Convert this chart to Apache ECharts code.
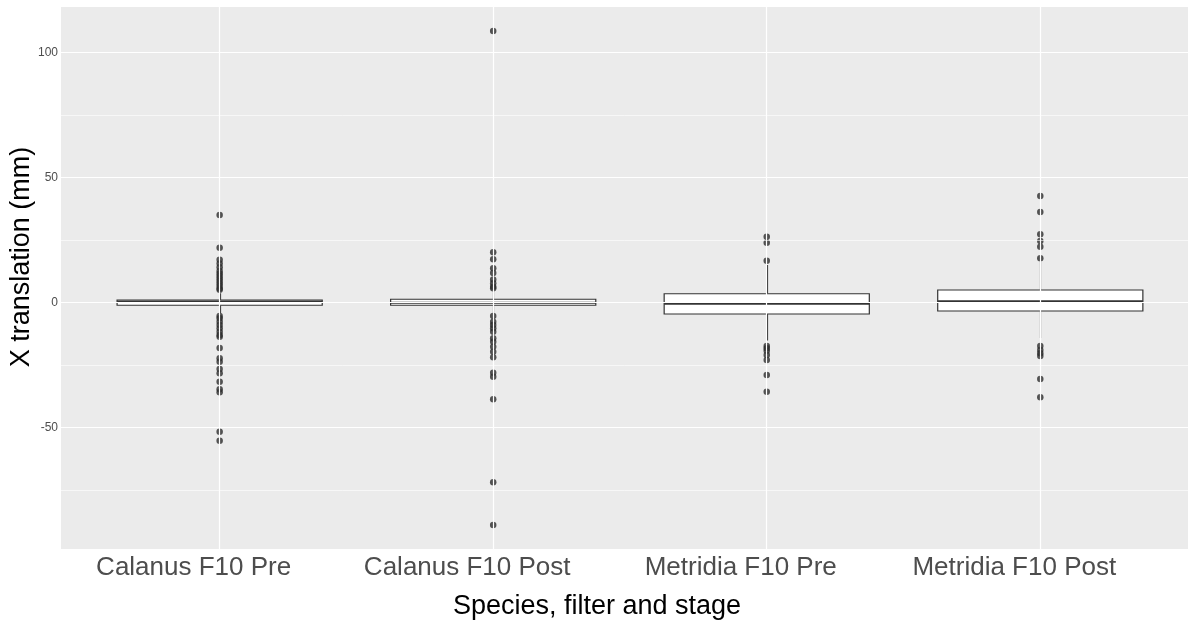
<!DOCTYPE html>
<html>
<head>
<meta charset="utf-8">
<script src="https://cdn.jsdelivr.net/npm/echarts@6/dist/echarts.min.js"></script>
<style>html,body{margin:0;padding:0;background:#fff}#c{width:1189px;height:626px}</style>
</head>
<body>
<div id="c"></div>
<script>
// ---- data ----
const categories = ['Calanus F10 Pre', 'Calanus F10 Post', 'Metridia F10 Pre', 'Metridia F10 Post'];
const whiskerLow  = [-4.4, -4.4, -15.3, -14.4];
const q1          = [-1.2, -1.2, -4.7, -3.5];
const median      = [0.3, -0.2, -0.6, 0.4];
const q3          = [0.9, 1.2, 3.4, 4.9];
const whiskerHigh = [3.6, 4.6, 14.9, 16.2];
const outliersCalanusPre = [34.9, 21.8, 17.0, 15.5, 14.0, 12.5, 11.5, 10.5, 9.5, 8.5, 7.5, 6.5, 5.5, 5.0,
  -5.5, -6.4, -7.8, -9.1, -10.4, -11.8, -13.1, -13.8, -18.3, -22.4, -23.8, -26.7, -28.4, -31.8, -34.8, -36.0, -51.8, -55.4];
const outliersCalanusPost = [108.5, 20.0, 17.2, 13.6, 11.7, 9.1, 7.6, 6.2, 5.6,
  -5.5, -7.8, -9.1, -10.4, -11.8, -14.4, -15.8, -17.8, -19.8, -22.0, -28.2, -29.8, -38.8, -72.0, -89.1];
const outliersMetridiaPre = [26.2, 23.8, 16.6, -17.5, -18.4, -19.4, -21.1, -23.1, -29.1, -35.8];
const outliersMetridiaPost = [42.5, 36.1, 27.2, 24.5, 22.2, 17.6, -17.5, -19.1, -20.4, -21.5, -30.7, -38.0];
const outlierGroups = [outliersCalanusPre, outliersCalanusPost, outliersMetridiaPre, outliersMetridiaPost];
const yTicks = [-50, 0, 50, 100];
const yMinorTicks = [-75, -25, 25, 75];

// ---- build ----
const boxData = categories.map((c, i) => [i, whiskerLow[i], q1[i], median[i], q3[i], whiskerHigh[i]]);
const pointData = [];
outlierGroups.forEach((g, i) => g.forEach(v => pointData.push([i, v])));
const xIdx = categories.map((c, i) => i);

const chart = echarts.init(document.getElementById('c'), null, {renderer: 'canvas'});
const stroke = '#333333';
chart.setOption({
  animation: false,
  backgroundColor: '#ffffff',
  grid: {left: 61, right: 1, top: 7, bottom: 77, show: true, backgroundColor: '#EBEBEB', borderWidth: 0,
    containLabel: false, outerBoundsMode: 'none'},
  xAxis: {
    type: 'value', min: -0.58, max: 3.54,
    name: 'Species, filter and stage', nameLocation: 'middle', nameGap: 44, nameMoveOverlap: false,
    nameTextStyle: {fontFamily: 'Liberation Sans', fontSize: 27, color: '#000', padding: [0, 55, 0, 0]},
    axisLine: {show: false},
    splitLine: {show: false},
    axisTick: {show: true, length: 4, lineStyle: {color: stroke, width: 1}, customValues: xIdx},
    axisLabel: {customValues: xIdx, margin: 6, fontFamily: 'Liberation Sans', fontSize: 26, color: '#4D4D4D',
      padding: [0, 52, 0, 0], formatter: v => categories[Math.round(v)]}
  },
  yAxis: {
    type: 'value', min: -98.7, max: 118.1,
    name: 'X translation (mm)', nameLocation: 'middle', nameGap: 26, nameRotate: 90, nameMoveOverlap: false,
    nameTextStyle: {fontFamily: 'Liberation Sans', fontSize: 27, color: '#000', padding: [0, 0, 0, 42]},
    axisLine: {show: false},
    splitLine: {show: false},
    axisTick: {show: true, length: 4, lineStyle: {color: stroke, width: 1}, customValues: yTicks},
    axisLabel: {customValues: yTicks, margin: 3, fontFamily: 'Liberation Sans', fontSize: 12, color: '#4D4D4D'}
  },
  series: [
    {
      type: 'scatter', data: [], z: 1, silent: true,
      markLine: {
        silent: true, symbol: 'none', label: {show: false}, animation: false,
        data: [
          ...yMinorTicks.map(v => ({yAxis: v, lineStyle: {color: '#ffffff', width: 0.6, type: 'solid'}})),
          ...yTicks.map(v => ({yAxis: v, lineStyle: {color: '#ffffff', width: 1.2, type: 'solid'}})),
          ...xIdx.map(v => ({xAxis: v, lineStyle: {color: '#ffffff', width: 1.2, type: 'solid'}}))
        ]
      }
    },
    {
      type: 'custom', z: 3, data: boxData,
      renderItem: (params, api) => {
        const x = api.value(0);
        const half = api.size([0.75, 0])[0] / 2;
        const pLow = api.coord([x, api.value(1)]);
        const pQ1 = api.coord([x, api.value(2)]);
        const pMed = api.coord([x, api.value(3)]);
        const pQ3 = api.coord([x, api.value(4)]);
        const pHigh = api.coord([x, api.value(5)]);
        const cx = Math.round(pMed[0]) + 0.5;
        return {
          type: 'group',
          children: [
            {type: 'line', shape: {x1: cx, y1: pQ3[1], x2: cx, y2: pHigh[1]}, style: {stroke: stroke, lineWidth: 1.2}},
            {type: 'line', shape: {x1: cx, y1: pQ1[1], x2: cx, y2: pLow[1]}, style: {stroke: stroke, lineWidth: 1.2}},
            {type: 'rect', shape: {x: pQ3[0] - half, y: pQ3[1], width: half * 2, height: pQ1[1] - pQ3[1]},
              style: {fill: '#ffffff', stroke: stroke, lineWidth: 1.2}},
            {type: 'line', shape: {x1: pMed[0] - half, y1: pMed[1], x2: pMed[0] + half, y2: pMed[1]}, style: {stroke: stroke, lineWidth: 2.2}}
          ]
        };
      }
    },
    {
      type: 'scatter', z: 4, data: pointData, symbol: 'circle', symbolSize: 6.5,
      itemStyle: {color: '#2b2b2b'}
    }
  ]
});
</script>
</body>
</html>
